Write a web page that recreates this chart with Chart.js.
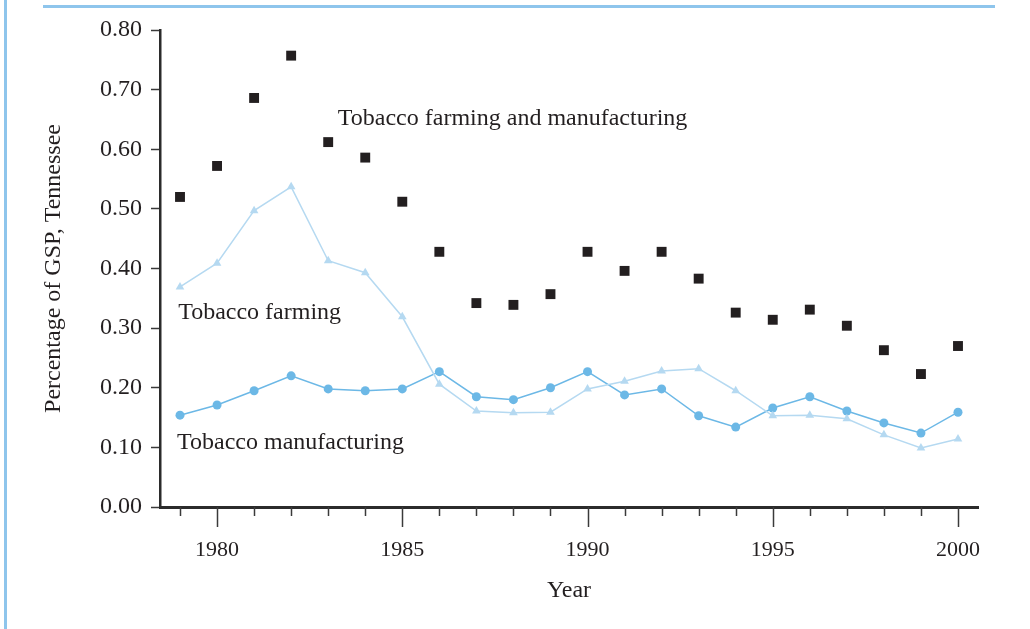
<!DOCTYPE html>
<html>
<head>
<meta charset="utf-8">
<script src="https://cdn.jsdelivr.net/npm/chart.js@4"></script>
<style>
  html, body { margin: 0; padding: 0; background: #fff; }
  #wrap { position: relative; width: 1030px; height: 629px; }
  #leftBar { position: absolute; left: 4px; top: 0; width: 3px; height: 629px; background: #8ec5ec; }
  #topBar { position: absolute; left: 43px; top: 5px; width: 952px; height: 3px; background: #8ec5ec; }
  canvas { position: absolute; left: 0; top: 0; }
</style>
</head>
<body>
<div id="wrap">
  <canvas id="gspChart" width="1030" height="629"></canvas>
  <div id="leftBar"></div>
  <div id="topBar"></div>
</div>
<script>
// years on the x axis
const years = [1979, 1980, 1981, 1982, 1983, 1984, 1985, 1986, 1987, 1988, 1989,
               1990, 1991, 1992, 1993, 1994, 1995, 1996, 1997, 1998, 1999, 2000];

// percentage of GSP
const farmingAndManufacturing = [0.520, 0.572, 0.686, 0.757, 0.612, 0.586, 0.512, 0.428, 0.342, 0.339, 0.357,
                                 0.428, 0.396, 0.428, 0.383, 0.326, 0.314, 0.331, 0.304, 0.263, 0.223, 0.270];
const farming = [0.369, 0.409, 0.497, 0.537, 0.413, 0.393, 0.319, 0.206, 0.161, 0.158, 0.159,
                 0.198, 0.211, 0.228, 0.232, 0.195, 0.153, 0.154, 0.148, 0.121, 0.099, 0.114];
const manufacturing = [0.154, 0.171, 0.195, 0.220, 0.198, 0.195, 0.198, 0.227, 0.185, 0.180, 0.200,
                       0.227, 0.188, 0.198, 0.153, 0.134, 0.166, 0.185, 0.161, 0.141, 0.124, 0.159];

const yearTickLabels = [1980, 1985, 1990, 1995, 2000];

const serif = '"Liberation Serif", "Times New Roman", serif';
const ink = '#231f20';

function toPoints(values) {
  return years.map((yr, i) => ({ x: yr, y: values[i] }));
}

// series labels written inside the plot, anchored in data units
const seriesLabels = [
  { text: 'Tobacco farming and manufacturing', x: 1983.26, y: 0.641 },
  { text: 'Tobacco farming', x: 1978.95, y: 0.315 },
  { text: 'Tobacco manufacturing', x: 1978.92, y: 0.097 }
];

const labelPlugin = {
  id: 'labels',
  afterDatasetsDraw(chart) {
    const ctx = chart.ctx;
    const xs = chart.scales.x, ys = chart.scales.y;
    ctx.save();
    ctx.font = '24px ' + serif;
    ctx.fillStyle = ink;
    ctx.textAlign = 'left';
    ctx.textBaseline = 'alphabetic';
    seriesLabels.forEach(l => {
      ctx.fillText(l.text, xs.getPixelForValue(l.x), ys.getPixelForValue(l.y));
    });
    ctx.restore();
  }
};

// year tick marks: long every 5 years, short otherwise
const yearTicksPlugin = {
  id: 'yearTicks',
  afterDraw(chart) {
    const ctx = chart.ctx;
    const xs = chart.scales.x;
    const base = chart.chartArea.bottom;
    ctx.save();
    ctx.strokeStyle = '#3a3a3a';
    ctx.lineWidth = 1.5;
    years.forEach(yr => {
      const px = Math.round(xs.getPixelForValue(yr)) + 0.5;
      const len = yr % 5 === 0 ? 20 : 9;
      ctx.beginPath();
      ctx.moveTo(px, base);
      ctx.lineTo(px, base + len);
      ctx.stroke();
    });
    ctx.restore();
  }
};

const ctx = document.getElementById('gspChart').getContext('2d');
const gspChart = new Chart(ctx, {
  type: 'line',
  data: {
    datasets: [
      {
        label: 'Tobacco farming and manufacturing',
        data: toPoints(farmingAndManufacturing),
        showLine: false,
        pointStyle: 'rect',
        pointRadius: 7,
        pointBackgroundColor: ink,
        pointBorderColor: ink,
        pointBorderWidth: 0
      },
      {
        label: 'Tobacco farming',
        data: toPoints(farming),
        borderColor: '#b5d9f1',
        borderWidth: 1.5,
        pointStyle: 'triangle',
        pointRadius: 5,
        pointBackgroundColor: '#b5d9f1',
        pointBorderColor: '#b5d9f1',
        pointBorderWidth: 0,
        tension: 0
      },
      {
        label: 'Tobacco manufacturing',
        data: toPoints(manufacturing),
        borderColor: '#6cb8e6',
        borderWidth: 1.5,
        pointStyle: 'circle',
        pointRadius: 4.5,
        pointBackgroundColor: '#6cb8e6',
        pointBorderColor: '#6cb8e6',
        pointBorderWidth: 0,
        tension: 0
      }
    ]
  },
  options: {
    responsive: false,
    animation: false,
    layout: { padding: { left: 39, top: 30, right: 52, bottom: 20 } },
    plugins: {
      legend: { display: false },
      tooltip: { enabled: false }
    },
    scales: {
      x: {
        type: 'linear',
        min: 1978.46,
        max: 2000.54,
        afterBuildTicks: scale => {
          scale.ticks = yearTickLabels.map(v => ({ value: v }));
        },
        afterFit: scale => { scale.height = 102; },
        border: { color: '#2b2b2b', width: 3 },
        grid: { display: true, drawOnChartArea: false, drawTicks: false },
        ticks: {
          padding: 30,
          color: ink,
          font: { family: serif, size: 22 },
          maxRotation: 0,
          callback: v => String(v)
        },
        title: {
          display: true,
          text: 'Year',
          color: ink,
          font: { family: serif, size: 24 },
          padding: { top: 7 }
        }
      },
      y: {
        min: 0,
        max: 0.8,
        afterFit: scale => { scale.width = 121; },
        border: { color: '#2b2b2b', width: 2.5 },
        grid: { drawOnChartArea: false, drawTicks: true, tickLength: 9, tickColor: '#3a3a3a', tickWidth: 1.5 },
        ticks: {
          stepSize: 0.1,
          padding: 9,
          color: ink,
          font: { family: serif, size: 24 },
          callback: v => v.toFixed(2)
        },
        title: {
          display: true,
          text: 'Percentage of GSP, Tennessee',
          color: ink,
          font: { family: serif, size: 24 },
          padding: { top: 0, bottom: 0 }
        }
      }
    }
  },
  plugins: [labelPlugin, yearTicksPlugin]
});
</script>
</body>
</html>
